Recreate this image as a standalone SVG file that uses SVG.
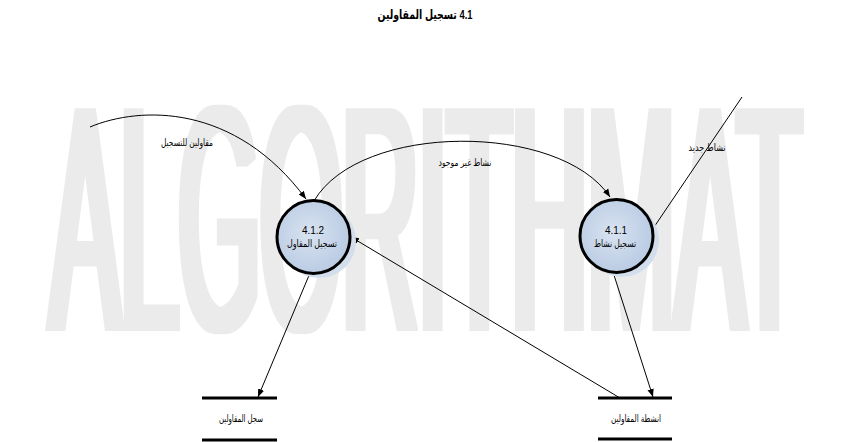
<svg xmlns="http://www.w3.org/2000/svg" width="863" height="442" viewBox="0 0 863 442">
<defs>
<style>
.wm{font-family:"Liberation Sans",Arial,sans-serif;font-size:321px;fill:#ebebeb}
.t{font-family:"Liberation Sans","DejaVu Sans",sans-serif;font-size:10px;fill:#000}
.title{font-family:"Liberation Sans","DejaVu Sans",sans-serif;font-size:13px;font-weight:bold;fill:#000}
.ring{fill:url(#g);stroke:#000;stroke-width:3}
.shadow{fill:#d3deed}
.flow{fill:none;stroke:#000;stroke-width:1}
.store{stroke:#000;stroke-width:3}
</style>
<filter id="thick" x="-0.05" y="-0.05" width="1.1" height="1.1">
<feMorphology operator="dilate" radius="5 1"/>
</filter>
<radialGradient id="g" cx="0.45" cy="0.45" r="0.6">
<stop offset="0" stop-color="#d9e3f1"/>
<stop offset="1" stop-color="#b7c9e2"/>
</radialGradient>
<marker id="ah" viewBox="0 0 10 10" refX="10" refY="5" markerWidth="8" markerHeight="8" markerUnits="userSpaceOnUse" orient="auto">
<path d="M0,1 L10,5 L0,9 z" fill="#000"/>
</marker>
</defs>
<rect width="863" height="442" fill="#fff"/>
<g filter="url(#thick)">
<text class="wm" transform="translate(50,330) scale(0.3275,1)">ALGORITHMAT</text>
</g>
<text class="title" x="425" y="19" text-anchor="middle" direction="rtl" textLength="95" lengthAdjust="spacingAndGlyphs">4.1 تسجيل المقاولين</text>
<g id="connectors">
<path class="flow" d="M90,127 C140,106 235,103 306,199" marker-end="url(#ah)"/>
<path class="flow" d="M314,201 C360,122 560,122 610,197" marker-end="url(#ah)"/>
<path class="flow" d="M742,97 L650,233" marker-end="url(#ah)"/>
<path class="flow" d="M310,273 L258,397" marker-end="url(#ah)"/>
<path class="flow" d="M613,272 L653,397" marker-end="url(#ah)"/>
<path class="flow" d="M620,398 L351,237" marker-end="url(#ah)"/>
<text class="t" x="187" y="146" text-anchor="middle" direction="rtl" textLength="52" lengthAdjust="spacingAndGlyphs">مقاولين للتسجيل</text>
<text class="t" x="465" y="166" text-anchor="middle" direction="rtl" textLength="53" lengthAdjust="spacingAndGlyphs">نشاط غير موجود</text>
<text class="t" x="707" y="151" text-anchor="middle" direction="rtl" textLength="37" lengthAdjust="spacingAndGlyphs">نشاط جديد</text>
</g>
<g id="p412">
<circle class="shadow" cx="319" cy="241" r="37"/>
<circle class="ring" cx="313.5" cy="237" r="36.5"/>
<text class="t" x="313" y="234" text-anchor="middle" font-size="11">4.1.2</text>
<text class="t" x="312" y="247" text-anchor="middle" direction="rtl" textLength="50" lengthAdjust="spacingAndGlyphs">تسجيل المقاول</text>
</g>
<g id="p411">
<circle class="shadow" cx="622" cy="240" r="37"/>
<circle class="ring" cx="616.5" cy="236" r="36.5"/>
<text class="t" x="616" y="234" text-anchor="middle" font-size="11">4.1.1</text>
<text class="t" x="615" y="247" text-anchor="middle" direction="rtl" textLength="42" lengthAdjust="spacingAndGlyphs">تسجيل نشاط</text>
</g>
<g id="store1">
<line class="store" x1="202" y1="398" x2="277" y2="398"/>
<line class="store" x1="202" y1="440" x2="277" y2="440"/>
<text class="t" x="241" y="422" text-anchor="middle" direction="rtl" textLength="44" lengthAdjust="spacingAndGlyphs">سجل المقاولين</text>
</g>
<g id="store2">
<line class="store" x1="598" y1="398" x2="672" y2="398"/>
<line class="store" x1="598" y1="439" x2="672" y2="439"/>
<text class="t" x="636" y="422" text-anchor="middle" direction="rtl" textLength="50" lengthAdjust="spacingAndGlyphs">انشطة المقاولين</text>
</g>
</svg>
